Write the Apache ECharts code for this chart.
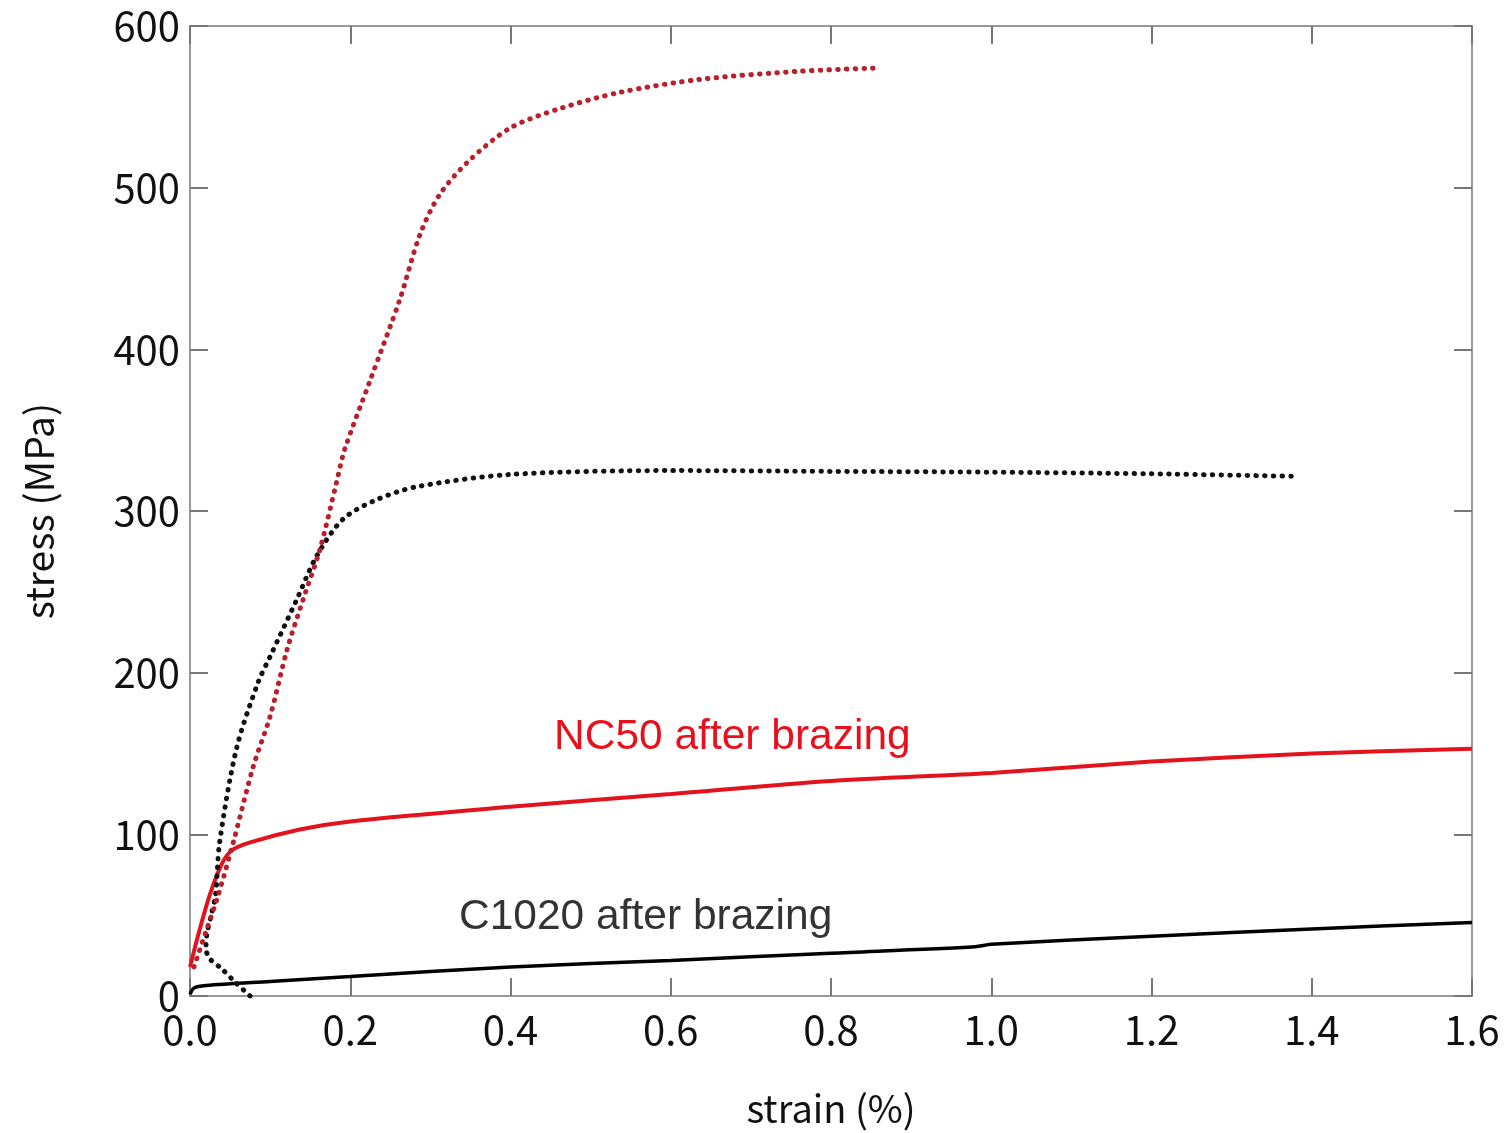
<!DOCTYPE html>
<html><head><meta charset="utf-8">
<script src="https://cdn.jsdelivr.net/npm/echarts@6/dist/echarts.min.js"></script>
<style>html,body{margin:0;padding:0;background:#fff}#c{width:1505px;height:1133px}</style>
</head><body><div id="c"></div>
<script>
// strain (%) , stress (MPa)
const nc50Before = [[0.005,18],[0.02,40],[0.035,62],[0.054,95],[0.079,142],[0.100,173],[0.121,214],[0.141,245],[0.162,276],[0.183,318],[0.193,338],[0.225,381],[0.262,431],[0.287,471],[0.312,496],[0.349,517],[0.40,537],[0.462,549],[0.537,559],[0.637,567],[0.761,572],[0.857,574]];
const c1020Before = [[0.075,0],[0.056,8.7],[0.040,16.7],[0.025,22.9],[0.020,29],[0.021,38],[0.027,51],[0.032,63],[0.037,95],[0.058,153],[0.085,194],[0.100,210],[0.133,245],[0.158,272],[0.191,295],[0.233,307],[0.283,315],[0.40,322.6],[0.60,325],[0.80,324.5],[1.00,324],[1.20,323],[1.382,321.4]];
const nc50After = [[0,18],[0.012,41],[0.025,63],[0.040,82],[0.052,90],[0.075,95],[0.137,103],[0.2,108],[0.4,117],[0.6,125],[0.8,133],[1.0,138],[1.2,145],[1.4,150],[1.6,153]];
const c1020After = [[0,1],[0.005,5],[0.02,6.5],[0.1,9],[0.2,12],[0.4,18],[0.6,22],[0.8,26.5],[0.98,30.5],[1.0,32],[1.2,37],[1.4,41.5],[1.6,45.5]];
const xTicks = {min:0, max:1.6, interval:0.2};
const yTicks = {min:0, max:600, interval:100};
const labelNC50 = "NC50 after brazing";
const labelC1020 = "C1020 after brazing";

const chart = echarts.init(document.getElementById('c'), null, {renderer:'canvas'});
const font = "'Noto Sans CJK JP','Noto Sans',sans-serif";
const axisLine = {show:true, onZero:false, lineStyle:{color:'#999', width:2}};
const tick = {show:true, inside:true, length:18, lineStyle:{color:'#777', width:2}};
chart.setOption({
  backgroundColor:'#fff',
  animation:false,
  grid:{left:190, right:33, top:26, bottom:136, containLabel:false},
  xAxis:[{
    type:'value', min:xTicks.min, max:xTicks.max, interval:xTicks.interval,
    name:'strain (%)', nameLocation:'middle', nameGap:94,
    nameTextStyle:{fontFamily:font, fontSize:38, color:'#111'},
    axisLine, axisTick:tick, splitLine:{show:false},
    axisLabel:{fontFamily:font, fontSize:40, color:'#111', margin:14, formatter:v=>v.toFixed(1)}
  },{
    type:'value', position:'top', min:xTicks.min, max:xTicks.max, interval:xTicks.interval,
    axisLine, axisTick:tick, axisLabel:{show:false}, splitLine:{show:false}
  }],
  yAxis:[{
    type:'value', min:yTicks.min, max:yTicks.max, interval:yTicks.interval,
    name:'stress (MPa)', nameLocation:'middle', nameGap:131, nameRotate:90,
    nameTextStyle:{fontFamily:font, fontSize:39, color:'#111'},
    axisLine, axisTick:tick, splitLine:{show:false},
    axisLabel:{fontFamily:font, fontSize:40, color:'#111', margin:10}
  },{
    type:'value', position:'right', min:yTicks.min, max:yTicks.max, interval:yTicks.interval,
    axisLine, axisTick:tick, axisLabel:{show:false}, splitLine:{show:false}
  }],
  series:[
    {type:'line', data:c1020After, showSymbol:false, smooth:0.3, lineStyle:{color:'#000', width:3.5}, z:3},
    {type:'line', data:nc50After, showSymbol:false, smooth:0.3, lineStyle:{color:'#e3121d', width:4}, z:4},
    {type:'line', data:c1020Before, showSymbol:false, smooth:0.3, lineStyle:{color:'#111', width:5, cap:'round', type:[0.5,8.2]}, z:5},
    {type:'line', data:nc50Before, showSymbol:false, smooth:0.3, lineStyle:{color:'#b8202c', width:5, cap:'round', type:[0.5,8.2]}, z:6}
  ],
  graphic:[
    {type:'text', left:554, top:716, style:{text:labelNC50, fontFamily:"'Liberation Sans',Arial,sans-serif", fontSize:42.5, fill:'#e8101c'}},
    {type:'text', left:459, top:896, style:{text:labelC1020, fontFamily:"'Liberation Sans',Arial,sans-serif", fontSize:42.5, fill:'#333'}}
  ]
});
</script></body></html>
